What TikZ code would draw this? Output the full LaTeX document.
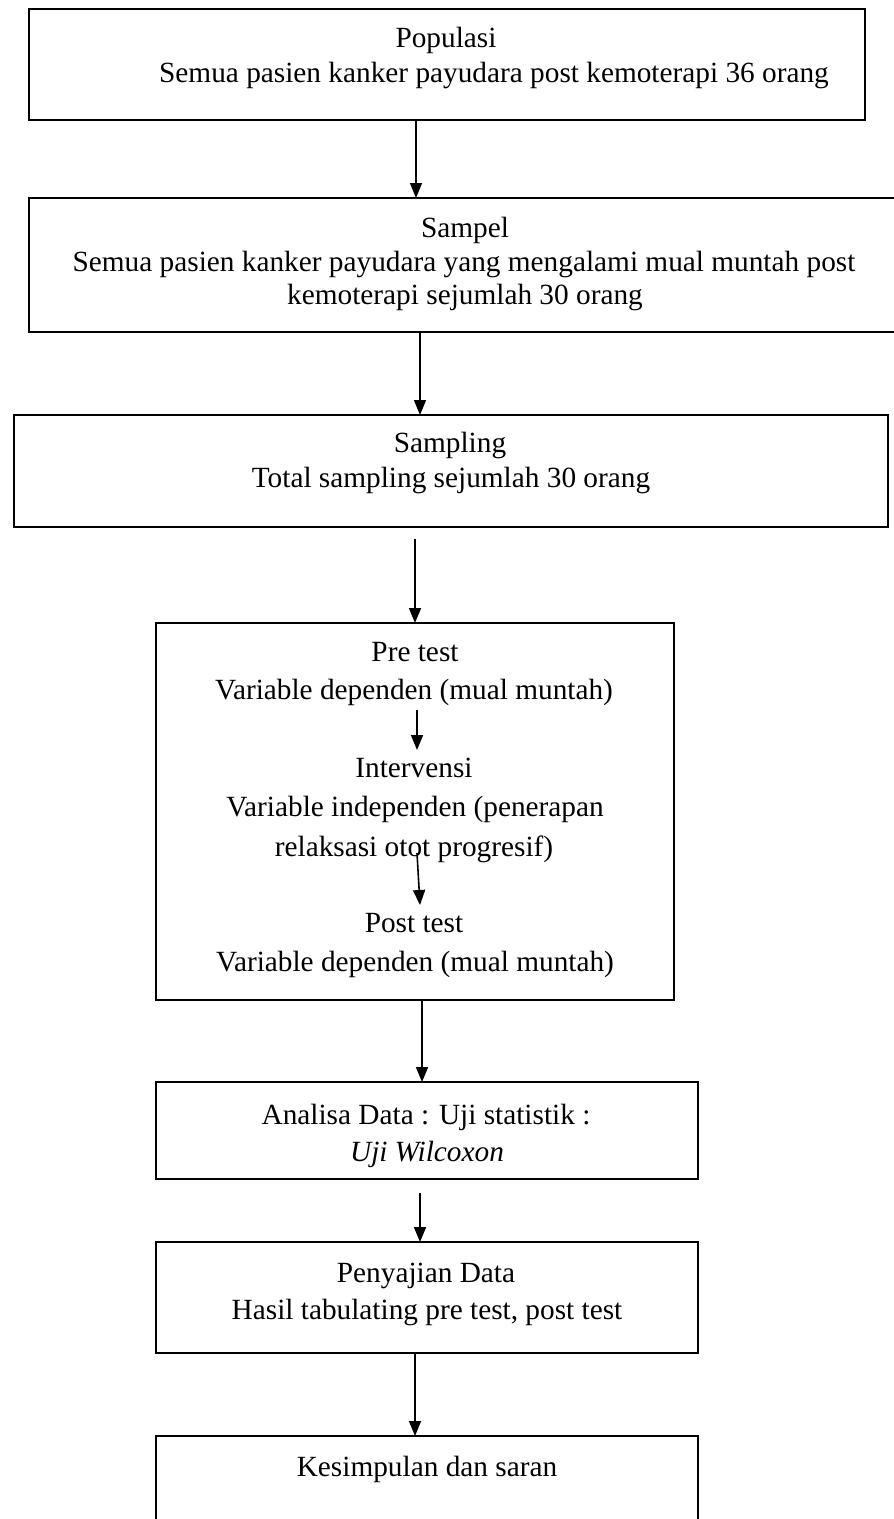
\documentclass[tikz,border=0pt]{standalone}
\usepackage{fontspec}
\setmainfont{Liberation Serif}
\usetikzlibrary{arrows.meta}
\tikzset{
  box/.style={draw, line width=2pt, rectangle, inner sep=0pt, outer sep=0pt, anchor=north west},
  txt/.style={anchor=base, inner sep=0pt, font=\fontsize{29.3}{35}\selectfont},
  arr/.style={line width=1.6pt, -{Triangle[length=15pt,width=12pt]}},
}
\begin{document}
\begin{tikzpicture}[x=1pt,y=-1pt]
\useasboundingbox (0,0) rectangle (894,1519);
\clip (0,0) rectangle (894,1519);
% boxes
\node[box, minimum width=836pt, minimum height=111pt] (b1) at (29,9) {};
\node[box, minimum width=880pt, minimum height=134pt] (b2) at (29,198) {};
\node[box, minimum width=874pt, minimum height=112pt] (b3) at (14,415) {};
\node[box, minimum width=518pt, minimum height=377pt] (b4) at (156,623) {};
\node[box, minimum width=542pt, minimum height=97pt] (b5) at (156,1082) {};
\node[box, minimum width=542pt, minimum height=111pt] (b6) at (156,1242) {};
\node[box, minimum width=542pt, minimum height=120pt] (b7) at (156,1436) {};
% texts
\node[txt] (t11) at (446,47) {Populasi};
\node[txt] (t12) at (494,82) {Semua pasien kanker payudara post kemoterapi 36 orang};
\node[txt] (t21) at (465,237) {Sampel};
\node[txt] (t22) at (464,271) {Semua pasien kanker payudara yang mengalami mual muntah post};
\node[txt] (t23) at (465,304) {kemoterapi sejumlah 30 orang};
\node[txt] (t31) at (450,452) {Sampling};
\node[txt] (t32) at (451,487) {Total sampling sejumlah 30 orang};
\node[txt] (t41) at (415,661) {Pre test};
\node[txt] (t42) at (414,699) {Variable dependen (mual muntah)};
\node[txt] (t43) at (414,777) {Intervensi};
\node[txt] (t44) at (415,816) {Variable independen (penerapan};
\node[txt] (t45) at (414,856) {relaksasi otot progresif)};
\node[txt] (t46) at (414,932) {Post test};
\node[txt] (t47) at (415,971) {Variable dependen (mual muntah)};
\node[txt] (t51) at (426,1124) {Analisa Data : Uji statistik :};
\node[txt] (t52) at (427,1161) {\itshape Uji Wilcoxon};
\node[txt] (t61) at (426,1282) {Penyajian Data};
\node[txt] (t62) at (427,1319) {Hasil tabulating pre test, post test};
\node[txt] (t71) at (427,1476) {Kesimpulan dan saran};
% arrows
\coordinate (a12) at (416,120);
\draw[arr] (a12) -- (a12 |- b2.north);
\coordinate (a23) at (420,332);
\draw[arr] (a23) -- (a23 |- b3.north);
\coordinate (a34) at (415,539);
\draw[arr] (a34) -- (a34 |- b4.north);
\coordinate (i1s) at (417,710);
\coordinate (i1e) at (417,750);
\draw[arr] (i1s) -- (i1e);
\coordinate (i2s) at (417,853);
\coordinate (i2e) at (420,905);
\draw[arr] (i2s) -- (i2e);
\coordinate (a45) at (422,1000);
\draw[arr] (a45) -- (a45 |- b5.north);
\coordinate (a56) at (420,1193);
\draw[arr] (a56) -- (a56 |- b6.north);
\coordinate (a67) at (415,1353);
\draw[arr] (a67) -- (a67 |- b7.north);
\end{tikzpicture}
\end{document}
